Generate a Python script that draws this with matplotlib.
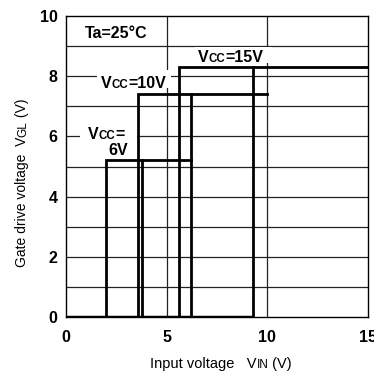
import matplotlib
matplotlib.use("Agg")
import matplotlib.pyplot as plt
from matplotlib.patches import Rectangle

plt.rcParams['font.family'] = ['Liberation Sans', 'DejaVu Sans']

# supply voltages and the switching thresholds of each curve
vcc_names = ['6V', '10V', '15V']
vgl_high = [5.2, 7.4, 8.3]        # output level when on
vin_rise = [2.0, 3.6, 5.6]        # left edge of each loop
vin_fall = [3.77, 6.2, 9.3]       # right edge of each loop
vin_top_end = [6.2, 10.0, 15.0]   # where the top line stops

x_ticks = [0, 5, 10, 15]
y_ticks = [0, 2, 4, 6, 8, 10]

fig = plt.figure(figsize=(3.74, 3.74), dpi=100)
ax = fig.add_axes([66/374, 57/374, 302/374, 301/374])
ax.set_xlim(0, 15)
ax.set_ylim(0, 10)

# grid
for y in range(1, 10):
    ax.axhline(y, color='#222222', lw=0.9, zorder=1)
for x in [5, 10]:
    ax.axvline(x, color='#222222', lw=0.9, zorder=1)
for s in ax.spines.values():
    s.set_linewidth(1.0)
    s.set_zorder(3)

ax.set_xticks(x_ticks)
ax.set_yticks(y_ticks)
ax.tick_params(length=0, labelsize=11.5, pad=6)
ax.tick_params(axis='x', pad=9)
for lab in ax.get_xticklabels() + ax.get_yticklabels():
    lab.set_fontweight('bold')

# curves
lw = 2.0
ax.plot([0, max(vin_fall)], [0, 0], color='black', lw=lw + 0.5, zorder=4,
        solid_capstyle='butt')
for i in range(len(vcc_names)):
    ax.plot([vin_rise[i], vin_rise[i], vin_top_end[i]], [0, vgl_high[i], vgl_high[i]],
            color='black', lw=lw, zorder=4, solid_joinstyle='miter')
    ax.plot([vin_fall[i], vin_fall[i]], [0, vgl_high[i]], color='black', lw=lw, zorder=4)

# white boxes behind the curve labels
for (x0, y0, w, h) in [(6.4, 8.45, 3.85, 0.53), (1.55, 7.6, 3.65, 0.62), (0.7, 5.3, 2.85, 1.1)]:
    ax.add_patch(Rectangle((x0, y0), w, h, facecolor='white', edgecolor='none', zorder=2))

big, small = 11.5, 8.3


def vlabel(x, y, parts):
    # chain text pieces left to right on one baseline
    prev = ax.text(x, y, parts[0][0], fontsize=parts[0][1], fontweight='bold',
                   ha='left', va='baseline', zorder=5)
    for s, size in parts[1:]:
        prev = ax.annotate(s, xy=(1, y), xycoords=(prev, 'data'), fontsize=size,
                           fontweight='bold', ha='left', va='baseline', zorder=5)
    return prev


vlabel(6.55, 8.48, [('V', big), ('CC', small), ('=' + vcc_names[2], big)])
vlabel(1.72, 7.62, [('V', big), ('CC', small), ('=' + vcc_names[1], big)])
vlabel(1.09, 5.9, [('V', big), ('CC', small), ('=', big)])
ax.text(2.12, 5.38, vcc_names[0], fontsize=big, fontweight='bold', ha='left',
        va='baseline', zorder=5)
ax.text(0.93, 9.26, 'Ta=25°C', fontsize=big, fontweight='bold', ha='left',
        va='baseline', zorder=5)

# axis titles with small-cap subscripts
tsize, tsub = 10.5, 8.5
base = 1 - 368/374
t = fig.text(150/374, base, 'Input voltage   V', fontsize=tsize, ha='left', va='baseline')
t2 = fig.text(0, 0, 'IN', fontsize=tsub, ha='left', va='baseline')
t3 = fig.text(0, 0, ' (V)', fontsize=tsize, ha='left', va='baseline')
fig.canvas.draw()
r = fig.canvas.get_renderer()
bb = t.get_window_extent(r)
t2.set_position((bb.x1 / 374, base))
bb2 = t2.get_window_extent(r)
t3.set_position((bb2.x1 / 374, base))

ylab_x = 26/374
ya = fig.text(ylab_x, (374 - 267)/374, 'Gate drive voltage  V', fontsize=10,
              rotation=90, ha='left', va='baseline', rotation_mode='anchor')
fig.canvas.draw()
bb = ya.get_window_extent(r)
yb = fig.text(ylab_x, bb.y1 / 374, 'GL', fontsize=tsub, rotation=90, ha='left',
              va='baseline', rotation_mode='anchor')
fig.canvas.draw()
bb = yb.get_window_extent(r)
fig.text(ylab_x, bb.y1 / 374, ' (V)', fontsize=10, rotation=90, ha='left',
         va='baseline', rotation_mode='anchor')

fig.savefig('out.png', dpi=100)
